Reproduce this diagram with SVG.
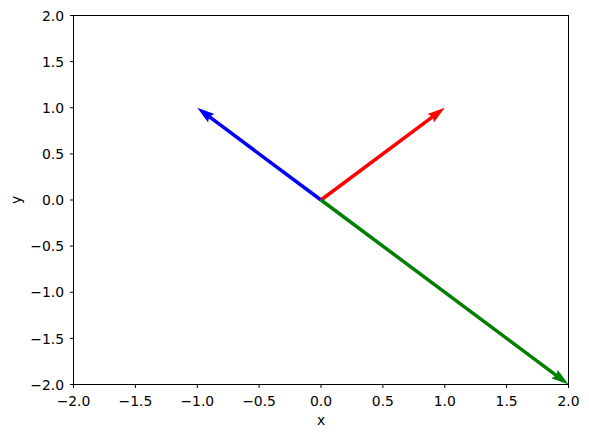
<svg xmlns="http://www.w3.org/2000/svg" width="589" height="438" viewBox="0 0 589 438">
<style>
.t{font-family:"DejaVu Sans",sans-serif;font-size:13.9px;fill:#000}
.tick{stroke:#000;stroke-width:1}
</style>
<rect width="589" height="438" fill="#fff"/>
<g id="axes">
<rect x="73.5" y="15.5" width="495" height="369" fill="none" stroke="#000" stroke-width="1"/>
<g class="tick">
<line x1="73.5" y1="384.5" x2="73.5" y2="388"/>
<line x1="135.4" y1="384.5" x2="135.4" y2="388"/>
<line x1="197.3" y1="384.5" x2="197.3" y2="388"/>
<line x1="259.1" y1="384.5" x2="259.1" y2="388"/>
<line x1="321" y1="384.5" x2="321" y2="388"/>
<line x1="382.9" y1="384.5" x2="382.9" y2="388"/>
<line x1="444.8" y1="384.5" x2="444.8" y2="388"/>
<line x1="506.6" y1="384.5" x2="506.6" y2="388"/>
<line x1="568.5" y1="384.5" x2="568.5" y2="388"/>
<line x1="70" y1="15.5" x2="73.5" y2="15.5"/>
<line x1="70" y1="61.6" x2="73.5" y2="61.6"/>
<line x1="70" y1="107.75" x2="73.5" y2="107.75"/>
<line x1="70" y1="153.9" x2="73.5" y2="153.9"/>
<line x1="70" y1="200" x2="73.5" y2="200"/>
<line x1="70" y1="246.1" x2="73.5" y2="246.1"/>
<line x1="70" y1="292.25" x2="73.5" y2="292.25"/>
<line x1="70" y1="338.4" x2="73.5" y2="338.4"/>
<line x1="70" y1="384.5" x2="70" y2="384.5"/>
<line x1="70" y1="384.5" x2="73.5" y2="384.5"/>
</g>
<g class="t" text-anchor="middle">
<text x="73.5" y="406">−2.0</text>
<text x="135.4" y="406">−1.5</text>
<text x="197.3" y="406">−1.0</text>
<text x="259.1" y="406">−0.5</text>
<text x="321" y="406">0.0</text>
<text x="382.9" y="406">0.5</text>
<text x="444.8" y="406">1.0</text>
<text x="506.6" y="406">1.5</text>
<text x="568.5" y="406">2.0</text>
<text x="321" y="424.5">x</text>
<text transform="translate(20.5,200) rotate(-90)">y</text>
</g>
<g class="t" text-anchor="end">
<text x="64" y="20.7">2.0</text>
<text x="64" y="66.8">1.5</text>
<text x="64" y="112.9">1.0</text>
<text x="64" y="159.1">0.5</text>
<text x="64" y="205.2">0.0</text>
<text x="64" y="251.3">−0.5</text>
<text x="64" y="297.4">−1.0</text>
<text x="64" y="343.6">−1.5</text>
<text x="64" y="389.7">−2.0</text>
</g>
</g>
<g id="connectors">
<g id="blue" transform="translate(321,200) rotate(-143.3)">
<polygon fill="#0000ff" points="0,-1.75 138.6,-1.75 136.85,-5.25 154.35,0 136.85,5.25 138.6,1.75 0,1.75"/>
</g>
<g id="red" transform="translate(321,200) rotate(-36.7)">
<polygon fill="#ff0000" points="0,-1.75 138.6,-1.75 136.85,-5.25 154.35,0 136.85,5.25 138.6,1.75 0,1.75"/>
</g>
<g id="green" transform="translate(321,200) rotate(36.7)">
<polygon fill="#008000" points="0,-1.75 292.95,-1.75 291.2,-5.25 308.7,0 291.2,5.25 292.95,1.75 0,1.75"/>
</g>
</g>
</svg>
